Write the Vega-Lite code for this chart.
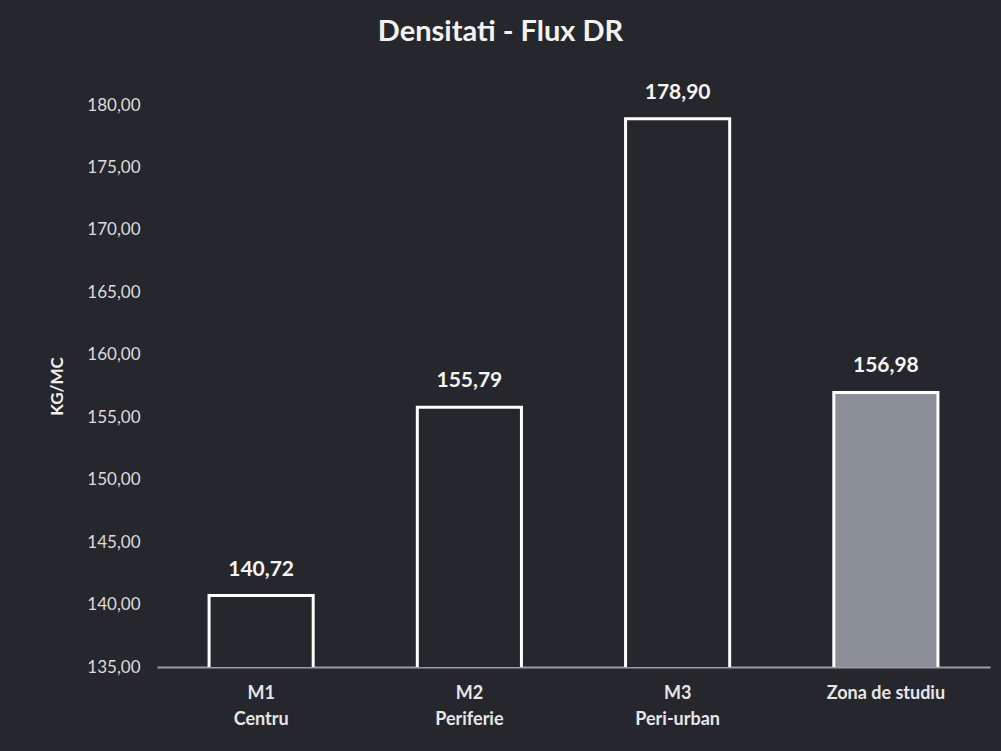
{
  "$schema": "https://vega.github.io/schema/vega-lite/v6.json",
  "width": 833,
  "height": 562,
  "autosize": {"type": "none"},
  "padding": {"left": 157, "top": 105, "right": 11, "bottom": 84},
  "background": "#26272d",
  "title": {
    "text": "Densitati - Flux DR",
    "font": "Lato",
    "fontSize": 29,
    "fontWeight": "bold",
    "color": "#f2f2f2",
    "anchor": "middle",
    "frame": "group",
    "dx": -73,
    "offset": 35
  },
  "config": {
    "locale": {"number": {"decimal": ",", "thousands": ".", "grouping": [3], "currency": ["", " €"]}},
    "view": {"stroke": null},
    "axis": {"grid": false, "labelFont": "Lato", "titleFont": "Lato"}
  },
  "data": {
    "values": [
      {"zona": "M1|Centru", "valoare": 140.72, "tip": "m"},
      {"zona": "M2|Periferie", "valoare": 155.79, "tip": "m"},
      {"zona": "M3|Peri-urban", "valoare": 178.90, "tip": "m"},
      {"zona": "Zona de studiu", "valoare": 156.98, "tip": "z"}
    ]
  },
  "encoding": {
    "x": {
      "field": "zona",
      "type": "nominal",
      "sort": null,
      "scale": {"paddingInner": 0.5, "paddingOuter": 0.25},
      "axis": {
        "title": null,
        "labelAngle": 0,
        "labelExpr": "split(datum.value, '|')",
        "labelFontSize": 18,
        "labelFontWeight": "bold",
        "labelColor": "#e6e6e6",
        "labelLineHeight": 26,
        "labelPadding": 17,
        "ticks": false,
        "domainColor": "#9a9ca0",
        "domainWidth": 2
      }
    },
    "y": {
      "field": "valoare",
      "type": "quantitative",
      "scale": {"domain": [135, 180], "nice": false, "zero": false},
      "axis": {
        "title": "KG/MC",
        "titleFontSize": 17,
        "titleFontWeight": "bold",
        "titleColor": "#f0f0f0",
        "titlePadding": 20,
        "values": [135, 140, 145, 150, 155, 160, 165, 170, 175, 180],
        "format": ",.2f",
        "labelFontSize": 17,
        "labelColor": "#dcdcdc",
        "labelPadding": 17,
        "ticks": false,
        "domain": false
      }
    }
  },
  "layer": [
    {
      "mark": {"type": "bar", "stroke": "#ffffff", "strokeWidth": 3, "clip": true},
      "encoding": {
        "fill": {
          "field": "tip",
          "type": "nominal",
          "scale": {"domain": ["m", "z"], "range": ["#26272d", "#8b8f97"]},
          "legend": null
        }
      }
    },
    {
      "mark": {"type": "text", "font": "Lato", "fontSize": 21, "fontWeight": "bold", "color": "#f5f5f5", "baseline": "alphabetic", "dy": -20},
      "encoding": {
        "text": {"field": "valoare", "type": "quantitative", "format": ",.2f"}
      }
    }
  ]
}
